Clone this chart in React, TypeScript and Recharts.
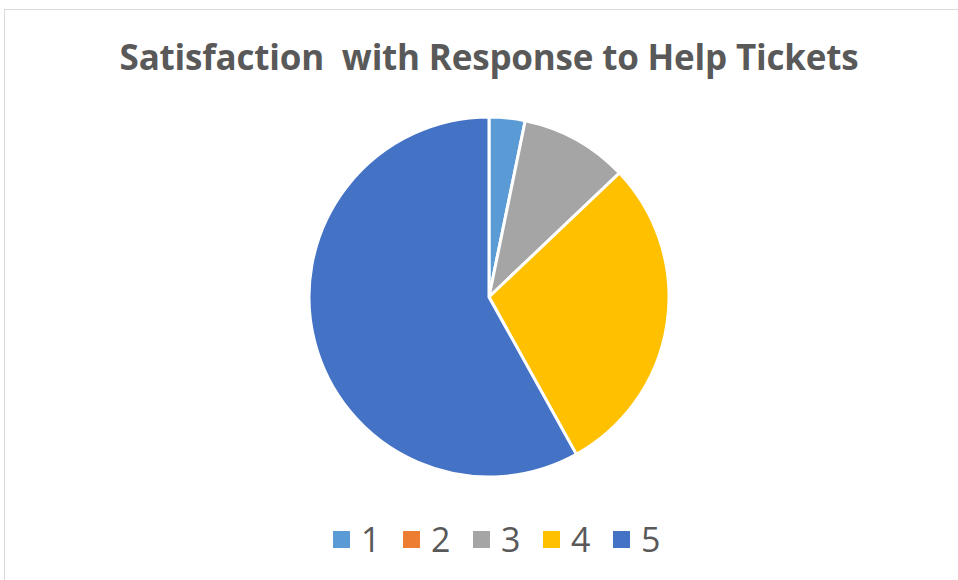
import React from "react";
import { PieChart, Pie, Cell, Legend } from "recharts";

const ratings = ["1", "2", "3", "4", "5"];
const counts = [1, 0, 3, 9, 18];
const colors = ["#5b9bd5", "#ed7d31", "#a5a5a5", "#ffc000", "#4472c4"];

const data = ratings.map((name, i) => ({ name, value: counts[i] }));

function LegendRow() {
  return (
    <div style={{ display: "flex", justifyContent: "center", alignItems: "center" }}>
      {ratings.map((r, i) => (
        <div key={r} style={{ display: "flex", alignItems: "center", width: 70 }}>
          <span style={{ width: 17, height: 17, background: colors[i], display: "inline-block", marginRight: 11 }} />
          <span style={{ fontSize: 34, color: "#595959", lineHeight: "34px" }}>{r}</span>
        </div>
      ))}
    </div>
  );
}

export default function App() {
  return (
    <div style={{ position: "absolute", left: 0, top: 0, width: 958, height: 580, background: "#fff", fontFamily: "'Open Sans', sans-serif" }}>
      <div style={{ position: "absolute", left: 4, top: 9, width: 960, height: 580, border: "1px solid #d9d9d9", boxSizing: "border-box" }} />
      <div style={{ position: "absolute", left: 0, top: 33, width: 978, textAlign: "center", fontSize: 35, fontWeight: 700, color: "#595959", whiteSpace: "pre", letterSpacing: -0.2 }}>
        {"Satisfaction  with Response to Help Tickets"}
      </div>
      <PieChart width={958} height={580} margin={{ top: 0, right: 0, bottom: 0, left: 0 }} style={{ position: "absolute", left: 0, top: 0 }}>
        <Pie
          data={data}
          dataKey="value"
          nameKey="name"
          cx={489}
          cy={297}
          outerRadius={180}
          startAngle={90}
          endAngle={-270}
          stroke="#ffffff"
          strokeWidth={3}
          isAnimationActive={false}
        >
          {data.map((d, i) => (
            <Cell key={d.name} fill={colors[i]} />
          ))}
        </Pie>
        <Legend
          layout="horizontal"
          verticalAlign="bottom"
          align="center"
          wrapperStyle={{ left: 29, width: 958, bottom: 24 }}
          content={() => <LegendRow />}
        />
      </PieChart>
    </div>
  );
}
